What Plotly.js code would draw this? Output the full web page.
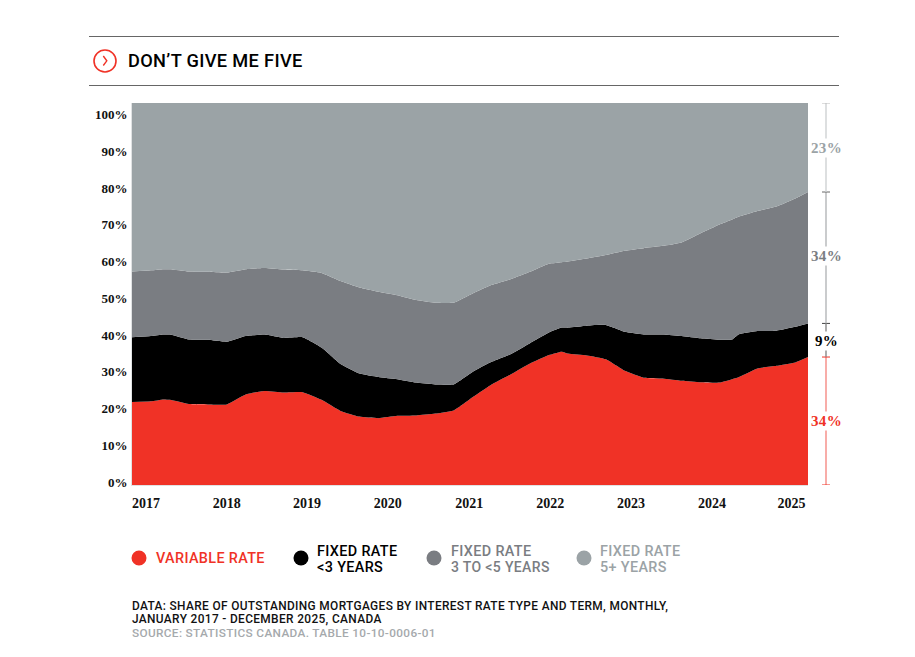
<!DOCTYPE html>
<html><head><meta charset="utf-8">
<script src="https://cdn.plot.ly/plotly-3.0.1.min.js"></script>
<style>html,body{margin:0;padding:0;background:#fff}#c{width:915px;height:657px}.annotation-text{letter-spacing:.35px}</style>
</head><body><div id="c"></div>
<script>
const months=[0,3,5,6,9,12,15,18,21,24,27,30,33,36,39,42,45,48,51,54,57,60,63,66,68,69,72,75,78,81,84,87,90,93,95,96,99,102,105,107];
const variableRate=[21.7,21.9,22.4,22.3,21.2,21.1,21.1,23.7,24.6,24.2,24.3,22.3,19.4,17.9,17.5,18.1,18.2,18.7,19.6,23.1,26.4,29.0,31.8,34.0,34.9,34.4,33.9,32.9,29.9,28.1,27.9,27.3,26.9,26.8,27.7,28.2,30.5,31.2,32.1,33.5];
const fixedUnder3=[17.0,17.1,17.0,17.1,16.9,16.9,16.4,15.3,14.8,14.3,14.4,13.7,12.3,11.3,10.8,9.6,8.6,7.6,6.8,6.6,5.9,5.3,5.3,5.9,6.3,6.8,7.8,9.0,10.2,11.3,11.5,11.7,11.5,11.2,10.4,11.2,9.8,9.2,9.3,8.8];
const fixed3to5=[17.2,17.2,17.1,17.1,17.8,17.8,18.1,17.5,17.4,17.9,17.5,19.5,21.7,22.5,22.3,22.0,21.6,21.4,21.4,20.5,20.1,19.6,18.7,18.0,17.1,17.3,17.6,18.3,21.2,22.6,23.2,24.5,27.5,30.2,31.4,30.8,31.4,32.5,33.6,34.4];
const fixed5plus=[44.1,43.8,43.5,43.5,44.1,44.2,44.4,43.5,43.2,43.6,43.8,44.5,46.6,48.3,49.4,50.3,51.6,52.3,52.2,49.8,47.6,46.1,44.2,42.1,41.7,41.5,40.7,39.8,38.7,38.0,37.4,36.5,34.1,31.8,30.5,29.8,28.3,27.1,25.0,23.3];
const yearLabels=['2017','2018','2019','2020','2021','2022','2023','2024','2025'];
const yearTickPos=[2.2,15.0,27.7,40.5,53.4,66.2,79.0,91.8,104.4];
const pctLabels=['0%','10%','20%','30%','40%','50%','60%','70%','80%','90%','100%'];
const pctTickPos=[0.8,10.4,20.0,29.6,39.2,48.8,58.5,68.1,77.7,87.3,96.9];
const endLabels=['34%','9%','34%','23%'];

const RED='#f03226',BLK='#000000',DK='#7a7d82',LT='#9ba3a6';
const SANS='Roboto, Inter, sans-serif',SERIF='"Liberation Serif", serif';
const L=132,R=808,T=103,B=485;
const fx=x=>(x-L)/(R-L), fy=y=>(B-y)/(B-T);

function area(name,y,c){return {name,x:months,y,type:'scatter',mode:'none',stackgroup:'one',fill:'tonexty',fillcolor:c,line:{shape:'spline',smoothing:0.4,width:0},hoverinfo:'skip'};}
const data=[area('Variable rate',variableRate,RED),area('Fixed rate <3 years',fixedUnder3,BLK),area('Fixed rate 3 to <5 years',fixed3to5,DK),area('Fixed rate 5+ years',fixed5plus,LT)];

function txt(text,x,y,size,color){return {text,xref:'paper',yref:'paper',x:fx(x),y:fy(y),xanchor:'left',yanchor:'middle',showarrow:false,borderpad:0,font:{family:SANS,size,color,weight:500}};}
function hline(x0,x1,y,color,w){return {type:'line',xref:'paper',yref:'paper',x0:fx(x0),x1:fx(x1),y0:fy(y),y1:fy(y),line:{color,width:w}};}
function dot(x,y,r,color){return {type:'circle',xref:'paper',yref:'paper',x0:fx(x-r),x1:fx(x+r),y0:fy(y-r),y1:fy(y+r),fillcolor:color,line:{width:0}};}

const n=months.length-1;
const lv1=variableRate[n],lv2=lv1+fixedUnder3[n],lv3=lv2+fixed3to5[n];
const segs=[[0,lv1,'#f58a84',RED,RED],[lv1,lv2,'#888888','#444444',BLK],[lv2,lv3,'#b4b6b8','#666666',DK],[lv3,100,'#cfd2d3','#bbbbbb',LT]];
const shapes=[hline(89,839,36.5,'#666',1),hline(89,839,85.5,'#666',1),
 {type:'circle',xref:'paper',yref:'paper',x0:fx(94),x1:fx(116),y0:fy(50),y1:fy(72),fillcolor:'rgba(0,0,0,0)',line:{color:RED,width:1.6}},
 {type:'path',xref:'paper',yref:'paper',path:`M ${fx(103.3)} ${fy(56)} L ${fx(106.8)} ${fy(60.8)} L ${fx(103.3)} ${fy(65.5)}`,line:{color:RED,width:1.4}},
 dot(139,558,7.5,RED),dot(301,558,7.5,BLK),dot(434,558,7.5,DK),dot(584,558,7.5,LT)];
const CX=826;
const anns=[txt('DON’T GIVE ME FIVE',127,61,18.2,'#000'),
 txt('VARIABLE RATE',155,558.5,14.4,RED),
 txt('FIXED RATE',316,551,14.4,BLK),
 txt('&lt;3 YEARS',316,567,14.4,BLK),
 txt('FIXED RATE',450,551,14.4,DK),
 txt('3 TO &lt;5 YEARS',450,567,14,DK),
 txt('FIXED RATE',599,551,14.4,LT),
 txt('5+ YEARS',599,567,14.4,LT),
 txt('DATA: SHARE OF OUTSTANDING MORTGAGES BY INTEREST RATE TYPE AND TERM, MONTHLY,',131,606,11.9,'#111'),
 txt('JANUARY 2017 - DECEMBER 2025, CANADA',131,619,11.9,'#111'),
 txt('SOURCE: STATISTICS CANADA. TABLE 10-10-0006-01',131,633,11.8,'#a5a9ac')];
segs.forEach((s,i)=>{
  shapes.push({type:'line',xref:'paper',yref:'y',x0:fx(CX),x1:fx(CX),y0:s[0],y1:s[1],line:{color:s[2],width:1.4}});
  shapes.push({type:'line',xref:'paper',yref:'y',x0:fx(CX-4),x1:fx(CX+4),y0:s[1],y1:s[1],line:{color:s[3],width:1}});
  anns.push({text:'<b>'+endLabels[i]+'</b>',xref:'paper',yref:'y',x:fx(CX+0.5),y:(s[0]+s[1])/2+(i==1?-0.1:0)+(i==2?0.5:0),xanchor:'center',yanchor:'middle',showarrow:false,bgcolor:'#fff',borderpad:1,font:{family:SERIF,size:15,color:s[4]}});
});
shapes.push({type:'line',xref:'paper',yref:'y',x0:fx(CX-4),x1:fx(CX+4),y0:0,y1:0,line:{color:RED,width:1}});

const layout={width:915,height:657,margin:{l:L,r:915-R,t:T,b:657-B,pad:0},paper_bgcolor:'#fff',plot_bgcolor:'#fff',showlegend:false,
 xaxis:{range:[0,107],showgrid:false,zeroline:false,showline:true,linecolor:'#e0e2e3',linewidth:1,tickmode:'array',tickvals:yearTickPos,ticktext:yearLabels.map(s=>'<b>'+s+'</b>'),ticks:'',ticklabelstandoff:5,tickfont:{family:SERIF,size:14,color:'#111'}},
 yaxis:{range:[0,100],showgrid:false,zeroline:false,showline:true,linecolor:'#e0e2e3',linewidth:1,tickmode:'array',tickvals:pctTickPos,ticktext:pctLabels.map(s=>'<b>'+s+'</b>'),ticks:'',ticklabelstandoff:1,tickfont:{family:SERIF,size:13,color:'#111'}},
 shapes,annotations:anns};
Plotly.newPlot('c',data,layout,{displayModeBar:false,staticPlot:true});
</script></body></html>
